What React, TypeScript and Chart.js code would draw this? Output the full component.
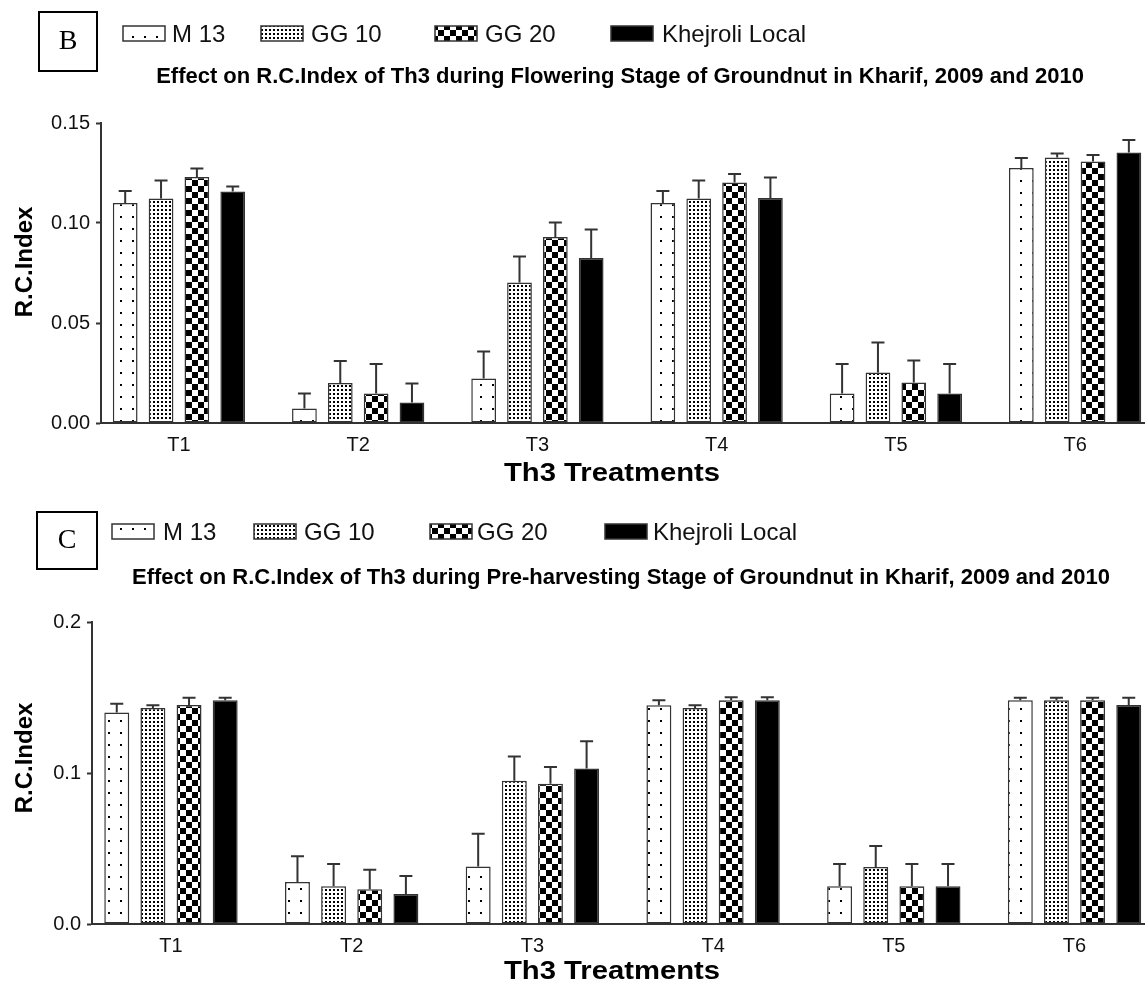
import React, { useEffect, useRef } from 'react';
import { Chart, registerables } from 'chart.js';

Chart.register(...registerables);

// ---------- data ----------
const treatments = ['T1', 'T2', 'T3', 'T4', 'T5', 'T6'];
const varieties = ['M 13', 'GG 10', 'GG 20', 'Khejroli Local'];

// Panel B: flowering stage
const flowerM13 = [0.110, 0.0072, 0.0223, 0.110, 0.0147, 0.1275];
const flowerGG10 = [0.1123, 0.020, 0.0703, 0.1123, 0.0252, 0.1327];
const flowerGG20 = [0.123, 0.0148, 0.093, 0.1202, 0.0202, 0.1307];
const flowerKhej = [0.1158, 0.0103, 0.0825, 0.1125, 0.0147, 0.1352];
const flowerM13Err = [0.006, 0.0075, 0.0134, 0.006, 0.0148, 0.005];
const flowerGG10Err = [0.009, 0.011, 0.0129, 0.009, 0.015, 0.002];
const flowerGG20Err = [0.0043, 0.0147, 0.0073, 0.0043, 0.011, 0.0033];
const flowerKhejErr = [0.0025, 0.0095, 0.0142, 0.0103, 0.0148, 0.0063];
const flowerTicks = [0, 0.05, 0.1, 0.15];

// Panel C: pre-harvesting stage
const harvM13 = [0.140, 0.0278, 0.038, 0.1448, 0.025, 0.1481];
const harvGG10 = [0.143, 0.025, 0.0949, 0.143, 0.0377, 0.1481];
const harvGG20 = [0.145, 0.023, 0.0929, 0.1481, 0.025, 0.1481];
const harvKhej = [0.1481, 0.0199, 0.1029, 0.1481, 0.025, 0.145];
const harvM13Err = [0.0059, 0.017, 0.0218, 0.0033, 0.0147, 0.0018];
const harvGG10Err = [0.0018, 0.0147, 0.0161, 0.0018, 0.014, 0.0018];
const harvGG20Err = [0.0049, 0.013, 0.0111, 0.002, 0.0147, 0.0018];
const harvKhejErr = [0.0018, 0.0119, 0.0181, 0.002, 0.0147, 0.0049];
const harvTicks = [0, 0.1, 0.2];

const SANS = '"Liberation Sans", Arial, sans-serif';
const SERIF = '"Liberation Serif", "Times New Roman", serif';
const INK = '#333';

// ---------- patterns ----------
function makePattern(kind: string): CanvasPattern | string {
  if (kind === 'solid') return '#000';
  const c = document.createElement('canvas');
  const size = kind === 'fine' ? 4 : 12;
  c.width = size;
  c.height = size;
  const g = c.getContext('2d')!;
  g.fillStyle = '#fff';
  g.fillRect(0, 0, size, size);
  g.fillStyle = '#000';
  if (kind === 'sparse') {
    g.fillRect(0, 0, 2, 2);
  } else if (kind === 'fine') {
    g.fillRect(1, 1, 2, 2);
  } else if (kind === 'checker') {
    g.fillRect(0, 0, 6, 6);
    g.fillRect(6, 6, 6, 6);
  }
  return g.createPattern(c, 'repeat')!;
}

type Panel = {
  letter: string;
  title: string;
  yTitle: string;
  xTitle: string;
  values: number[][];
  errors: number[][];
  yTicks: number[];
  decimals: number;
  height: number;
  axisLeft: number;
  plotTop: number;
  plotBottom: number;
  xMin: number;
  xMax: number;
  box: number[];
  letterY: number;
  swatchX: number[];
  textX: number[];
  swatchY: number;
  textBaseline: number;
  titleX: number;
  titleBaseline: number;
  yTitleX: number;
  yTitleY: number;
  xTitleX: number;
  xTitleY: number;
};

const panelB: Panel = {
  letter: 'B',
  title: 'Effect on R.C.Index of Th3 during Flowering Stage of Groundnut in Kharif, 2009 and 2010',
  yTitle: 'R.C.Index',
  xTitle: 'Th3 Treatments',
  values: [flowerM13, flowerGG10, flowerGG20, flowerKhej],
  errors: [flowerM13Err, flowerGG10Err, flowerGG20Err, flowerKhejErr],
  yTicks: flowerTicks,
  decimals: 2,
  height: 492,
  axisLeft: 101,
  plotTop: 123,
  plotBottom: 423,
  xMin: -0.435,
  xMax: 5.39,
  box: [39, 12, 58, 59],
  letterY: 42,
  swatchX: [123, 261, 435, 611],
  textX: [172, 311, 485, 662],
  swatchY: 26,
  textBaseline: 42,
  titleX: 620,
  titleBaseline: 83,
  yTitleX: 25,
  yTitleY: 262,
  xTitleX: 612,
  xTitleY: 474,
};

const panelC: Panel = {
  letter: 'C',
  title: 'Effect on R.C.Index of Th3 during Pre-harvesting Stage of Groundnut in Kharif, 2009 and 2010',
  yTitle: 'R.C.Index',
  xTitle: 'Th3 Treatments',
  values: [harvM13, harvGG10, harvGG20, harvKhej],
  errors: [harvM13Err, harvGG10Err, harvGG20Err, harvKhejErr],
  yTicks: harvTicks,
  decimals: 1,
  height: 492,
  axisLeft: 92,
  plotTop: 130,
  plotBottom: 432,
  xMin: -0.437,
  xMax: 5.39,
  box: [37, 20, 60, 57],
  letterY: 49,
  swatchX: [112, 254, 430, 605],
  textX: [163, 304, 477, 653],
  swatchY: 32,
  textBaseline: 48,
  titleX: 621,
  titleBaseline: 92,
  yTitleX: 25,
  yTitleY: 266,
  xTitleX: 612,
  xTitleY: 480,
};

const patternKinds = ['sparse', 'fine', 'checker', 'solid'];

function PanelChart({ panel }: { panel: Panel }) {
  const ref = useRef<HTMLCanvasElement>(null);
  useEffect(() => {
    document.body.style.margin = '0';
    const canvas = ref.current!;
    const patterns = patternKinds.map(makePattern);

    const decorPlugin = {
      id: 'decor',
      afterDraw(chart: any) {
        const ctx = chart.ctx as CanvasRenderingContext2D;
        ctx.save();
        // panel letter box
        const [bx, by, bw, bh] = panel.box;
        ctx.strokeStyle = '#000';
        ctx.lineWidth = 2;
        ctx.strokeRect(bx, by, bw, bh);
        ctx.fillStyle = '#000';
        ctx.font = `28px ${SERIF}`;
        ctx.textAlign = 'center';
        ctx.textBaseline = 'middle';
        ctx.fillText(panel.letter, bx + bw / 2, panel.letterY);
        // legend
        ctx.textAlign = 'left';
        ctx.textBaseline = 'alphabetic';
        chart.data.datasets.forEach((ds: any, i: number) => {
          ctx.fillStyle = ds.backgroundColor;
          ctx.fillRect(panel.swatchX[i], panel.swatchY, 42, 15);
          ctx.strokeStyle = INK;
          ctx.lineWidth = 1.5;
          ctx.strokeRect(panel.swatchX[i], panel.swatchY, 42, 15);
          ctx.fillStyle = '#111';
          ctx.font = `24px ${SANS}`;
          ctx.fillText(ds.label, panel.textX[i], panel.textBaseline);
        });
        // title
        ctx.fillStyle = '#000';
        ctx.font = `bold 22px ${SANS}`;
        ctx.textAlign = 'center';
        ctx.fillText(panel.title, panel.titleX, panel.titleBaseline);
        // x title (slightly wide lettering as in the original)
        ctx.save();
        ctx.font = `bold 25px ${SANS}`;
        ctx.textBaseline = 'middle';
        ctx.translate(panel.xTitleX, panel.xTitleY);
        ctx.scale(1.17, 1);
        ctx.fillText(panel.xTitle, 0, 0);
        ctx.restore();
        // y title
        ctx.font = `bold 24px ${SANS}`;
        ctx.textAlign = 'center';
        ctx.textBaseline = 'middle';
        ctx.translate(panel.yTitleX, panel.yTitleY);
        ctx.rotate(-Math.PI / 2);
        ctx.fillText(panel.yTitle, 0, 0);
        ctx.restore();
      },
    };

    const errorPlugin = {
      id: 'errorBars',
      afterDatasetsDraw(chart: any) {
        const ctx = chart.ctx as CanvasRenderingContext2D;
        const yScale = chart.scales.y;
        ctx.save();
        ctx.strokeStyle = INK;
        ctx.lineWidth = 2;
        chart.data.datasets.forEach((ds: any, di: number) => {
          const meta = chart.getDatasetMeta(di);
          meta.data.forEach((bar: any, i: number) => {
            const v = ds.data[i].y;
            const e = ds.errors[i];
            const yTop = yScale.getPixelForValue(v + e);
            ctx.beginPath();
            ctx.moveTo(bar.x, bar.y);
            ctx.lineTo(bar.x, yTop);
            ctx.moveTo(bar.x - 6.5, yTop);
            ctx.lineTo(bar.x + 6.5, yTop);
            ctx.stroke();
          });
        });
        ctx.restore();
      },
    };

    const chart = new Chart(canvas, {
      type: 'bar',
      data: {
        datasets: varieties.map((name, di) => ({
          label: name,
          data: panel.values[di].map((v, i) => ({ x: i, y: v })),
          errors: panel.errors[di],
          backgroundColor: patterns[di] as any,
          borderColor: INK,
          borderWidth: 1.5,
          borderSkipped: false,
          barPercentage: 0.69,
          categoryPercentage: 0.8,
        })) as any,
      },
      options: {
        responsive: false,
        animation: false,
        devicePixelRatio: 1,
        layout: { padding: { top: panel.plotTop, left: 0, right: 0, bottom: 0 } },
        plugins: {
          legend: { display: false },
          title: { display: false },
          tooltip: { enabled: false },
        },
        scales: {
          x: {
            type: 'linear',
            min: panel.xMin,
            max: panel.xMax,
            bounds: 'data',
            offset: false,
            afterDataLimits: (s: any) => {
              s.min = panel.xMin;
              s.max = panel.xMax;
            },
            afterBuildTicks: (s: any) => {
              s.ticks = treatments.map((_, i) => ({ value: i }));
              s.min = panel.xMin;
              s.max = panel.xMax;
            },
            afterFit: (s: any) => {
              s.height = panel.height - panel.plotBottom;
            },
            ticks: {
              callback: (v: any) => treatments[v as number] ?? '',
              autoSkip: false,
              maxRotation: 0,
              padding: 10,
              color: '#111',
              font: { family: SANS, size: 20 },
            },
            grid: { display: false, drawTicks: false, offset: false },
            border: { display: true, color: INK, width: 2 },
          },
          y: {
            min: 0,
            max: panel.yTicks[panel.yTicks.length - 1],
            afterBuildTicks: (s: any) => {
              s.ticks = panel.yTicks.map((v) => ({ value: v }));
            },
            afterFit: (s: any) => {
              s.width = panel.axisLeft;
            },
            ticks: {
              callback: (v: any) => Number(v).toFixed(panel.decimals),
              padding: 6,
              color: '#111',
              font: { family: SANS, size: 20 },
            },
            grid: {
              display: true,
              drawOnChartArea: false,
              drawTicks: true,
              tickLength: 5,
              tickColor: INK,
              tickWidth: 2,
            },
            border: { display: true, color: INK, width: 2 },
          },
        },
      } as any,
      plugins: [errorPlugin, decorPlugin],
    });
    return () => chart.destroy();
  }, [panel]);
  return (
    <canvas
      ref={ref}
      width={1145}
      height={panel.height}
      style={{ display: 'block', width: 1145, height: panel.height }}
    />
  );
}

export default function App() {
  return (
    <div style={{ width: 1145, background: '#fff' }}>
      <PanelChart panel={panelB} />
      <PanelChart panel={panelC} />
    </div>
  );
}
